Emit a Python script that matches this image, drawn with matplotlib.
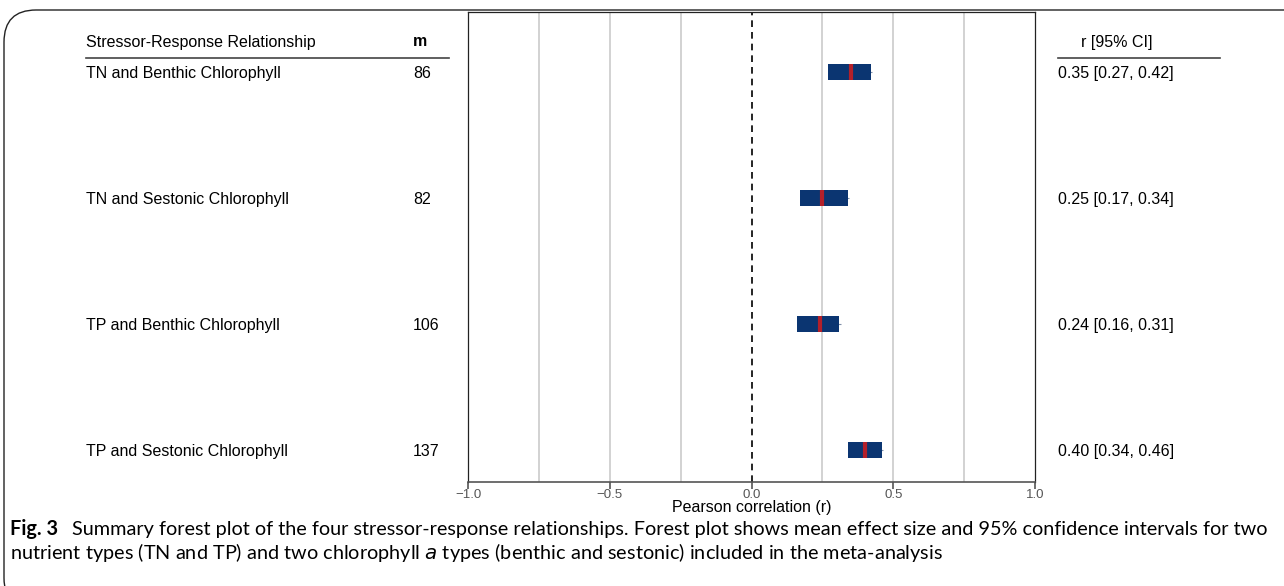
import matplotlib.pyplot as plt
import matplotlib.transforms as mtransforms
from matplotlib.patches import FancyBboxPatch
from matplotlib.lines import Line2D

# data
relationships = ['TN and Benthic Chlorophyll', 'TN and Sestonic Chlorophyll',
                 'TP and Benthic Chlorophyll', 'TP and Sestonic Chlorophyll']
m_values = [86, 82, 106, 137]
r_est = [0.35, 0.25, 0.24, 0.40]
ci_low = [0.27, 0.17, 0.16, 0.34]
ci_high = [0.42, 0.34, 0.31, 0.46]

caption_1 = ('Summary forest plot of the four stressor-response relationships. Forest plot shows '
             'mean effect size and 95% confidence intervals for two')
caption_2 = ('nutrient types (TN and TP) and two chlorophyll $\\it{a}$ types (benthic and sestonic) '
             'included in the meta-analysis')

W, H = 1284, 586
fig = plt.figure(figsize=(W / 100, H / 100), dpi=100)
plt.rcParams['font.family'] = ['Liberation Sans', 'DejaVu Sans']
FS = 11.5

def fx(px):
    return px / W

def fy(py):
    return 1 - py / H

# axes box in pixels: left 468, right 1035, top 12, bottom 482
ax = fig.add_axes([fx(468), fy(482), fx(1035 - 468), (482 - 12) / H])

rows = [4, 3, 2, 1]
for xg in [-0.75, -0.5, -0.25, 0.25, 0.5, 0.75]:
    ax.axvline(xg, color='#cfcfcf', lw=1.3, zorder=0)
ax.axvline(0, color='black', lw=1.2, ls=(0, (4, 3)), zorder=1)

for y, lo, hi, r in zip(rows, ci_low, ci_high, r_est):
    ax.hlines(y, lo, hi + 0.005, color='#7f8fa8', lw=0.8, zorder=2)
    ax.barh(y, hi - lo, left=lo, height=0.127, color='#0b3571', zorder=3)
    ax.plot([r], [y], marker='|', markersize=12, mew=3, color='#b3202a', zorder=4)

ax.set_xlim(-1, 1)
ax.set_ylim(0.746, 4.476)
ax.set_yticks([])
ax.set_xticks([-1, -0.5, 0, 0.5, 1])
ax.set_xticklabels(['\u22121.0', '\u22120.5', '0.0', '0.5', '1.0'])
ax.tick_params(axis='x', colors='#555555', labelsize=9.5, length=5, width=1.2, pad=0)
for s in ['top', 'left', 'right']:
    ax.spines[s].set_color('#222222')
    ax.spines[s].set_linewidth(0.9)
ax.spines['bottom'].set_color('#555555')
ax.spines['bottom'].set_linewidth(1.2)
ax.set_xlabel('Pearson correlation (r)', fontsize=FS, labelpad=-1)

# table columns tied to the row positions
trans = mtransforms.blended_transform_factory(fig.transFigure, ax.transData)
for y, name, m, r, lo, hi in zip(rows, relationships, m_values, r_est, ci_low, ci_high):
    fig.text(fx(86), y - 0.01, name, transform=trans, fontsize=FS, va='center')
    fig.text(fx(413), y - 0.01, str(m), transform=trans, fontsize=FS, va='center')
    fig.text(fx(1058), y - 0.01, f'{r:.2f} [{lo:.2f}, {hi:.2f}]', transform=trans,
             fontsize=FS, va='center')

fig.text(fx(86), fy(42), 'Stressor-Response Relationship', fontsize=FS, va='center')
fig.text(fx(413), fy(42), 'm', fontsize=FS, va='center', fontweight='bold')
fig.text(fx(1117), fy(42), 'r [95% CI]', fontsize=FS, va='center', ha='center')
fig.add_artist(Line2D([fx(86), fx(449)], [fy(58), fy(58)], color='#444444', lw=1.2))
fig.add_artist(Line2D([fx(1058), fx(1220)], [fy(58), fy(58)], color='#444444', lw=1.2))

# caption, sized so the first line spans the same width as in the reference
cap_font = ['Lato', 'DejaVu Sans']
renderer = fig.canvas.get_renderer()
t1 = fig.text(fx(72), fy(529), caption_1, fontsize=12, va='center', family=cap_font)
w = t1.get_window_extent(renderer).width
cap_fs = 12 * (1264 - 72) / w
t1.set_fontsize(cap_fs)
fig.text(fx(10), fy(529), 'Fig. 3', fontsize=cap_fs, fontweight='bold', va='center',
         family=cap_font)
fig.text(fx(10), fy(552), caption_2, fontsize=cap_fs, va='center', family=cap_font)

# rounded frame around the figure, only top and left edges visible
frame = FancyBboxPatch((fx(4), fy(610)), fx(1400), (610 - 10) / H,
                       boxstyle='round,pad=0,rounding_size=0.025',
                       transform=fig.transFigure, fill=False, ec='#222222', lw=1.0,
                       mutation_aspect=W / H)
fig.add_artist(frame)

fig.savefig('out.png', dpi=100)
